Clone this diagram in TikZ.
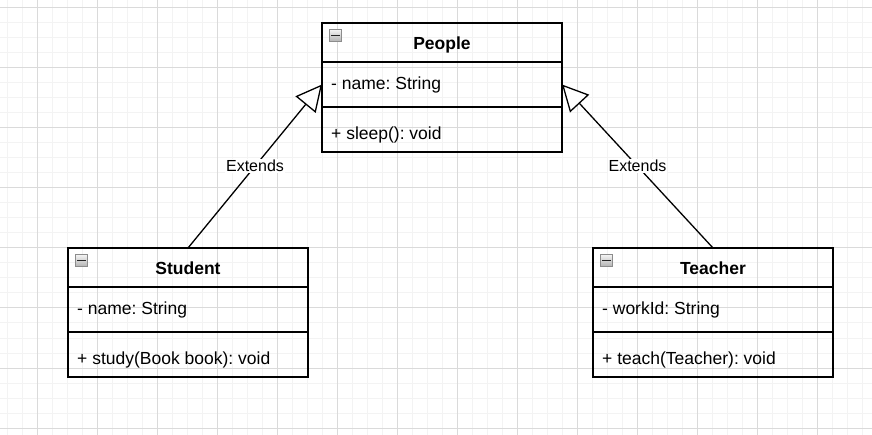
\documentclass[tikz,border=0pt]{standalone}
\usepackage{fontspec}
\setmainfont{Liberation Sans}
\frenchspacing
\usetikzlibrary{positioning,arrows.meta}
\definecolor{gridminor}{RGB}{243,243,243}
\definecolor{gridmajor}{RGB}{218,218,218}
\colorlet{ecol}{black}
\tikzstyle{classhead}=[draw=ecol, line width=1.3pt, outer sep=0pt, minimum width=240pt, minimum height=39pt, text height=17pt, text depth=2pt, font=\fontsize{17.5}{20}\selectfont\bfseries]
\tikzstyle{classpart}=[draw=ecol, line width=1.3pt, outer sep=0pt, minimum width=240pt, minimum height=45pt]
\tikzstyle{member}=[inner sep=0pt, anchor=west, font=\fontsize{17.5}{20}\selectfont]
\tikzstyle{icon}=[draw=black!45, line width=0.8pt, top color=black!4, bottom color=black!30, minimum size=12pt, inner sep=0pt,
  path picture={\draw[black!85, line width=1.8pt] ([xshift=-4.5pt]path picture bounding box.center) -- ([xshift=4.5pt]path picture bounding box.center);}]
\tikzstyle{extends}=[line width=1.3pt, ecol, -{Triangle[length=26pt,width=26pt,fill=white]}]
\tikzstyle{lbl}=[fill=white, inner sep=1pt, font=\fontsize{16}{18}\selectfont]

\begin{document}
\begin{tikzpicture}[x=1pt,y=-1pt]
	\useasboundingbox[fill=white] (0,0) rectangle (872,435);
	% grid
	\foreach \x in {7,22,...,872} \draw[gridminor, line width=1pt] (\x,0) -- (\x,435);
	\foreach \y in {8,23,...,435} \draw[gridminor, line width=1pt] (0,\y) -- (872,\y);
	\foreach \x in {37,97,...,872} \draw[gridmajor, line width=1pt] (\x,0) -- (\x,435);
	\foreach \y in {8,68,...,435} \draw[gridmajor, line width=1pt] (0,\y) -- (872,\y);
	% classes
	\node[classhead] (people) at (442,42.5) {People};
	\node[classpart] (peopleattr) [below=0pt of people] {};
	\node[classpart] (peoplemeth) [below=0pt of peopleattr] {};
	\node[classhead] (student) at (188,267.5) {Student};
	\node[classpart] (studentattr) [below=0pt of student] {};
	\node[classpart] (studentmeth) [below=0pt of studentattr] {};
	\node[classhead] (teacher) at (713,267.5) {Teacher};
	\node[classpart] (teacherattr) [below=0pt of teacher] {};
	\node[classpart] (teachermeth) [below=0pt of teacherattr] {};
	% icons
	\node[icon] (peopleicon) at ([shift={(13.5pt,-12.5pt)}]people.north west) {};
	\node[icon] (studenticon) at ([shift={(13.5pt,-12.5pt)}]student.north west) {};
	\node[icon] (teachericon) at ([shift={(13.5pt,-12.5pt)}]teacher.north west) {};
	% members
	\node[member] (peoplename) at ([shift={(9pt,-0.5pt)}]peopleattr.west) {- name: String};
	\node[member] (peoplesleep) at ([shift={(9pt,-5pt)}]peoplemeth.west) {+ sleep(): void};
	\node[member] (studentname) at ([shift={(9pt,-0.5pt)}]studentattr.west) {- name: String};
	\node[member] (studentstudy) at ([shift={(9pt,-5pt)}]studentmeth.west) {+ study(Book book): void};
	\node[member] (teacherid) at ([shift={(9pt,-0.5pt)}]teacherattr.west) {- workId: String};
	\node[member] (teacherteach) at ([shift={(9pt,-5pt)}]teachermeth.west) {+ teach(Teacher): void};
	% inheritance
	\draw[extends] (student.north) -- node[lbl] (studentext) {Extends} (peopleattr.west);
	\draw[extends] (teacher.north) -- node[lbl] (teacherext) {Extends} (peopleattr.east);
\end{tikzpicture}
\end{document}
